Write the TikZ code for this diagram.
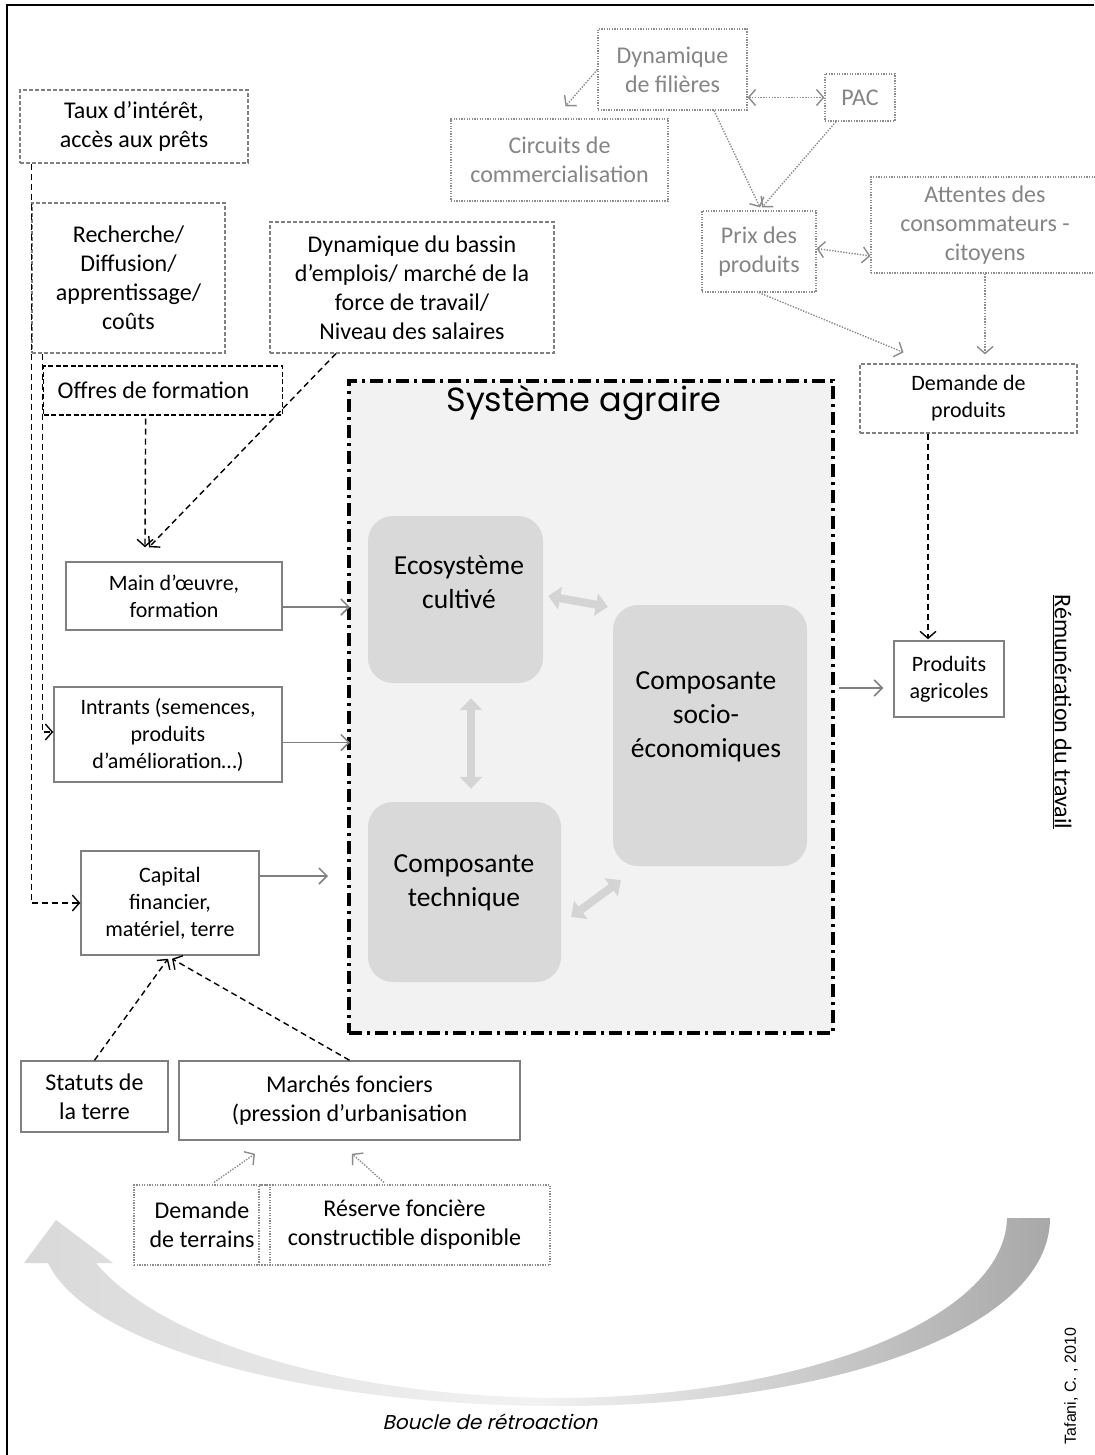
\documentclass[tikz,border=0pt]{standalone}
\usepackage{fontspec}
\setmainfont{Carlito}
\newfontfamily\titlefont{Poppins}
\newfontfamily\loopfont[FakeSlant=0.22]{Poppins}
\newfontfamily\arialfont{Liberation Sans}
\usetikzlibrary{arrows.meta,calc}
\definecolor{dotgray}{HTML}{8C8C8C}
\definecolor{txtgray}{HTML}{858585}
\definecolor{boxgray}{HTML}{808080}
\definecolor{sysfill}{HTML}{F2F2F2}
\definecolor{rgray}{HTML}{D9D9D9}
\definecolor{blkgray}{HTML}{D4D4D4}
\definecolor{arrgray}{HTML}{7F7F7F}
\tikzset{
  fbig/.style={font=\fontsize{24}{29}\selectfont},
  fmid/.style={font=\fontsize{22}{27}\selectfont},
  fcomp/.style={font=\fontsize{27.5}{34}\selectfont, align=center},
  basebox/.style={align=center, inner sep=0pt, rectangle},
  gdot/.style={basebox, draw=dotgray, dash pattern=on 1.3pt off 1.3pt, line width=1.2pt, text=txtgray, fbig},
  gdash/.style={basebox, draw=boxgray, dash pattern=on 4pt off 2pt, line width=1.2pt, fbig},
  bdash/.style={basebox, draw=black, dash pattern=on 5pt off 2.5pt, line width=1.3pt, fbig},
  sbox/.style={basebox, draw=boxgray, line width=1.5pt, fmid},
  rbox/.style={rectangle, fill=rgray, rounded corners=25pt, inner sep=0pt},
  sysbox/.style={rectangle, fill=sysfill, draw=black, line width=4pt, dash pattern=on 13pt off 5pt on 3pt off 5pt, inner sep=0pt},
  dotarr/.style={draw=dotgray, line width=1.4pt, dash pattern=on 1.4pt off 1.4pt, -{Straight Barb[length=7pt,width=16pt]}},
  dotdarr/.style={draw=dotgray, line width=1.4pt, dash pattern=on 1.4pt off 1.4pt, {Straight Barb[length=7pt,width=16pt]}-{Straight Barb[length=7pt,width=16pt]}},
  dasharr/.style={draw=black, line width=1.4pt, dash pattern=on 6pt off 4pt, -{Straight Barb[length=7pt,width=16pt]}},
  grayarr/.style={draw=arrgray, line width=1.5pt, -{Straight Barb[length=8pt,width=16pt]}},
  blockarr/.style={draw=blkgray, line width=8pt, {Triangle[length=12pt,width=22pt]}-{Triangle[length=12pt,width=22pt]}}
}
\begin{document}
\begin{tikzpicture}[x=1pt,y=-1pt]
\useasboundingbox (0,0) rectangle (1094,1455);
\fill[white] (0,0) rectangle (1094,1455);

% frame
\draw[line width=2.5pt] (7,1455) -- (7,5) -- (1094,5);

% feedback loop arrow
\shade[left color=gray!30, right color=gray!68, middle color=gray!10]
  (1050,1218) .. controls (1050,1330) and (830,1406) .. (560,1406)
  .. controls (320,1406) and (90,1350) .. (48,1263)
  -- (24,1263) -- (56,1220) -- (113,1263) -- (96,1263)
  .. controls (160,1340) and (340,1397) .. (560,1398)
  .. controls (800,1397) and (1005,1320) .. (1007,1218) -- cycle;
\node[font=\loopfont\fontsize{20}{24}\selectfont] (boucle) at (490,1422) {Boucle de rétroaction};
\node[rotate=90, font=\arialfont\fontsize{16}{18}\selectfont] (taf) at (1071,1386) {Tafani, C. , 2010};

% agrarian system
\node[sysbox, minimum width=484pt, minimum height=652pt] (sys) at (591,707) {};
\node[font=\titlefont\fontsize{33.5}{38}\selectfont] (systitle) at (584,403) {Système agraire};
\node[rbox, minimum width=175pt, minimum height=167pt] (eco) at (455.5,599.5) {};
\node[fcomp] (ecot) at (459,582) {Ecosystème\\cultivé};
\node[rbox, minimum width=193pt, minimum height=180pt] (tech) at (464.5,892) {};
\node[fcomp] (techt) at (464,882.5) {Composante\\technique};
\node[rbox, minimum width=194pt, minimum height=261pt] (socio) at (710,735.5) {};
\node[fcomp] (sociot) at (706,716.5) {Composante\\socio-\\économiques};
\draw[blockarr] ($(eco.east)+(5,-3.5)$) -- ($(socio.north west)+(-5,2)$);
\draw[blockarr] ($(eco.south)+(15.5,15)$) -- ($(tech.north)+(6.5,-13)$);
\draw[blockarr] ($(tech.east)+(10,25)$) -- ($(socio.south west)+(8,14)$);

% top grey dotted boxes
\node[gdot, minimum width=149pt, minimum height=81pt] (dynfil) at (672.5,69.5) {Dynamique\\de filières};
\node[gdot, minimum width=70pt, minimum height=47pt] (pac) at (860,97.5) {PAC};
\node[gdot, minimum width=217pt, minimum height=82pt] (circ) at (559.5,160) {Circuits de\\commercialisation};
\node[gdot, minimum width=114pt, minimum height=81pt] (prix) at (759,251.5) {Prix des\\produits};
\node[gdot, minimum width=228pt, minimum height=96pt] (att) at (985,225) {Attentes des\\consommateurs -\\citoyens};

% dashed boxes
\node[gdash, minimum width=228pt, minimum height=73pt] (taux) at (134,126.5) {Taux d’intérêt,\\accès aux prêts};
\node[gdash, minimum width=193pt, minimum height=150pt] (rech) at (128.5,278) {Recherche/\\Diffusion/\\apprentissage/\\coûts};
\node[gdash, minimum width=284pt, minimum height=131pt] (dynbas) at (412,287.5) {Dynamique du bassin\\d’emplois/ marché de la\\force de travail/\\Niveau des salaires};
\node[bdash, minimum height=49pt, anchor=west, text width=211pt, align=flush left, inner xsep=14pt] (offres) at (43,390.5) {Offres de formation};
\node[gdash, fmid, minimum width=217pt, minimum height=69pt] (demprod) at (968.5,398.5) {Demande de\\produits};

% solid boxes
\node[sbox, minimum width=216pt, minimum height=68pt] (main) at (174,596) {Main d’œuvre,\\formation};
\node[sbox, minimum width=228pt, minimum height=95pt] (intr) at (168,734.5) {Intrants (semences,\\produits\\d’amélioration…)};
\node[sbox, minimum width=178pt, minimum height=104pt] (cap) at (170,903) {Capital\\financier,\\matériel, terre};
\node[sbox, minimum width=110pt, minimum height=76pt] (prod) at (949,679) {Produits\\agricoles};
\node[sbox, fbig, minimum width=147pt, minimum height=71pt] (stat) at (94.5,1096.5) {Statuts de\\la terre};
\node[sbox, fbig, minimum width=341pt, minimum height=79pt] (march) at (349.5,1100.5) {Marchés fonciers\\(pression d’urbanisation};
\node[gdot, text=black, minimum width=136pt, minimum height=80pt] (demt) at (202,1225) {Demande\\de terrains};
\node[gdot, text=black, minimum width=291pt, minimum height=80pt] (res) at (404.5,1225) {Réserve foncière\\constructible disponible};

\node[rotate=-90, fbig] (remu) at (1062,712) {\underline{Rémunération du travail}};

% dotted connectors
\draw[dotarr] (dynfil.west) -- ($(circ.north)+(6,-12)$);
\draw[dotdarr] (dynfil.east |- pac.west) -- (pac.west);
\draw[dotarr] ($(dynfil.south)+(41.5,0)$) -- ($(prix.north)+(1,-3)$);
\draw[dotarr] ($(pac.south)+(-24,0)$) -- ($(prix.north)+(3,-3)$);
\draw[dotdarr] ($(prix.east)+(0,-3)$) -- ($(att.west)+(0,31)$);
\draw[dotarr] (prix.south) -- ($(demprod.north)+(-65,-11)$);
\draw[dotarr] (att.south) -- ($(att.south |- demprod.north)+(0,-9)$);
\draw[dotarr] ($(demt.north)+(12,-2)$) -- ($(march.south)+(-94.5,13)$);
\draw[dotarr] ($(res.north)+(-20.5,-2)$) -- ($(march.south)+(2.5,13)$);

% dashed connectors
\draw[dasharr] ($(taux.south west)+(12,0)$) |- (cap.west);
\draw[dasharr] ($(rech.south west)+(11,0)$) |- ($(intr.west)+(0,-2.5)$);
\draw[dasharr] ($(offres.south)+(-17.5,3)$) -- ($(main.north)+(-29,-14)$);
\draw[dasharr] ($(dynbas.south)+(-76,0)$) -- ($(main.north)+(-25,-14)$);
\draw[dasharr] ($(demprod.south)+(-40.5,0)$) -- ($(prod.north)+(-21,-1)$);
\draw[dasharr] (stat.north) -- ($(cap.south)+(-2,3)$);
\draw[dasharr] (march.north) -- ($(cap.south)+(2,3)$);

% grey solid connectors
\draw[grayarr] ($(main.east)+(0,11)$) -- ($(sys.west |- main.east)+(3,11)$);
\draw[grayarr] ($(intr.east)+(0,8)$) -- ($(sys.west |- intr.east)+(3,8)$);
\draw[grayarr] ($(cap.east)+(0,-27)$) -- ($(sys.west |- cap.east)+(-19,-27)$);
\draw[grayarr] ($(sys.east |- prod.west)+(4,9)$) -- ($(prod.west)+(-10,9)$);
\end{tikzpicture}
\end{document}
